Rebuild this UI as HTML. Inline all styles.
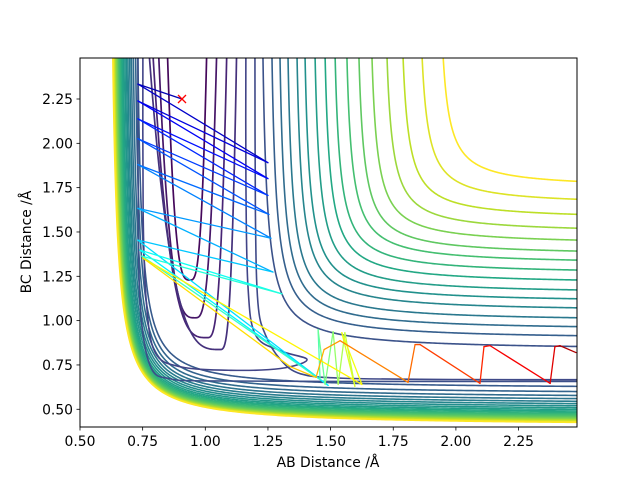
<!DOCTYPE html>
<html><head><meta charset="utf-8">
<style>
html,body{margin:0;padding:0;background:#fff;}
svg{display:block;}
text{font-family:"DejaVu Sans","Liberation Sans",sans-serif;font-size:13.9px;fill:#000;}
</style></head>
<body>
<svg id="chart" width="640" height="480" viewBox="0 0 640 480" xmlns="http://www.w3.org/2000/svg">
<defs><clipPath id="plotclip"><rect x="80" y="58" width="497" height="369"/></clipPath></defs>
<rect x="0" y="0" width="640" height="480" fill="#fff"/>
<g id="contours" clip-path="url(#plotclip)"></g>
<g id="traj" clip-path="url(#plotclip)"></g>
<g id="marker"></g>
<rect x="80" y="58" width="497" height="369" fill="none" stroke="#000" stroke-width="1"/>
<g id="xticks"></g>
<g id="yticks"></g>
<text x="328" y="467" text-anchor="middle">AB Distance /Å</text>
<text x="0" y="0" text-anchor="middle" transform="translate(31,242) rotate(-90)">BC Distance /Å</text>
</svg>
<script>
// ---- data ----
const xTicks = [0.50,0.75,1.00,1.25,1.50,1.75,2.00,2.25];
const yTicks = [0.50,0.75,1.00,1.25,1.50,1.75,2.00,2.25];
const outerTopX = [1.230,1.266,1.298,1.330,1.366,1.398,1.438,1.478,1.518,1.565,1.613,1.665,1.725,1.789,1.865,1.949];
const outerRightY = [0.854,0.915,0.966,1.016,1.072,1.123,1.173,1.229,1.285,1.341,1.392,1.454,1.521,1.599,1.684,1.785];
const wallTopX = [0.731,0.722,0.713,0.705,0.698,0.691,0.685,0.679,0.673,0.668,0.663,0.659,0.655,0.651,0.648,0.645,0.642,0.639,0.637,0.635,0.633,0.631];
const wallRightY = [0.629,0.600,0.578,0.560,0.545,0.532,0.520,0.509,0.499,0.490,0.482,0.474,0.467,0.460,0.454,0.449,0.444,0.440,0.436,0.432,0.429,0.426];
const uLeftX = [0.847,0.811,0.787,0.771];
const uRightX = [1.007,1.047,1.087,1.126];
const uBottomX = [0.939,0.959,1.007,1.059];
const uBottomY = [1.229,1.016,0.904,0.837];
const tongueX = [0.751,0.752,0.765,0.80,0.90,1.10,1.30,1.406,1.30,1.20,1.17,1.162,1.162];
const tongueY = [2.60,1.60,1.10,0.82,0.74,0.72,0.73,0.78,0.83,0.92,1.20,1.80,2.60];
const exitX = [0.731,0.733,0.745,0.785,0.86,1.0,1.5,2.6];
const exitY = [2.60,1.50,1.00,0.73,0.672,0.66,0.657,0.657];
const armX = [1.198,1.200,1.210,1.240,1.300,1.380,1.550,2.000,2.600];
const armY = [2.60,1.60,1.10,0.92,0.78,0.70,0.675,0.668,0.667];
const trajX = [0.907,0.731,1.250,0.731,1.250,0.731,1.250,0.731,1.254,0.731,1.262,0.731,1.270,0.731,1.490,0.739,1.306,0.747,1.458,1.450,1.478,1.510,1.530,1.557,1.597,1.545,1.625,0.751,1.338,1.442,1.474,1.538,1.809,1.837,1.857,2.096,2.112,2.136,2.376,2.395,2.415,2.479];
const trajY = [2.250,2.334,1.891,2.239,1.801,2.138,1.706,2.026,1.599,1.880,1.465,1.633,1.274,1.454,0.635,1.398,1.151,1.364,0.668,0.949,0.640,0.938,0.640,0.932,0.629,0.932,0.640,1.353,0.741,0.680,0.837,0.887,0.652,0.865,0.865,0.646,0.853,0.859,0.646,0.853,0.859,0.820];
const startX = [0.907], startY = [2.250];

// ---- axes ----
const X0=80, X1=577, Y0=427, Y1=58;
const XMIN=0.5, XPX=250.6, YREF=2.25, YREFPX=99, YPX=177.3;
function sx(v){return X0+(v-XMIN)*XPX;}
function sy(v){return YREFPX-(v-YREF)*YPX;}
const XMAX=XMIN+(X1-X0)/XPX, YMAX=YREF+(YREFPX-Y1)/YPX;
const NS="http://www.w3.org/2000/svg";
function mk(tag,attrs,parent){const e=document.createElementNS(NS,tag);for(const k in attrs)e.setAttribute(k,attrs[k]);parent.appendChild(e);return e;}

const vir=["#440154","#482475","#414487","#355f8d","#2a788e","#21918c","#22a884","#44bf70","#7ad151","#bddf26","#fde725"];
function hx(c){return [parseInt(c.slice(1,3),16),parseInt(c.slice(3,5),16),parseInt(c.slice(5,7),16)];}
function viridis(t){t=Math.max(0,Math.min(1,t));const f=t*10,i=Math.min(9,Math.floor(f)),r=f-i;const a=hx(vir[i]),b=hx(vir[i+1]);return "rgb("+a.map((v,k)=>Math.round(v+(b[k]-v)*r)).join(",")+")";}
function jet(t){function cl(v){return Math.max(0,Math.min(1,v));}const r=cl(1.5-Math.abs(4*t-3)),g=cl(1.5-Math.abs(4*t-2)),b=cl(1.5-Math.abs(4*t-1));return "rgb("+Math.round(r*255)+","+Math.round(g*255)+","+Math.round(b*255)+")";}

const cg=document.getElementById('contours');
function hyper(xtop,yright,c,color,name){
  let xa=xtop,yb=yright;
  for(let k=0;k<30;k++){yb=yright-c/(XMAX+0.01-xa);xa=xtop-c/(YMAX+0.01-yb);}
  let d="";
  for(let i=0;i<=300;i++){const x=xa+0.0005+Math.pow(i/300,2.2)*(2.6-xa);const y=yb+c/(x-xa);d+=(i?"L":"M")+sx(x).toFixed(2)+","+sy(Math.min(y,3)).toFixed(2);}
  const p=mk('path',{d:d,fill:"none",stroke:color,"stroke-width":1.6},cg);
  
  
}
function smooth(xs,ys,color,name){
  const P=xs.map((x,i)=>[sx(x),sy(ys[i])]);
  let d="M"+P[0][0]+","+P[0][1];
  for(let i=0;i<P.length-1;i++){const p0=P[Math.max(0,i-1)],p1=P[i],p2=P[i+1],p3=P[Math.min(P.length-1,i+2)];
    const c1=[p1[0]+(p2[0]-p0[0])/6,p1[1]+(p2[1]-p0[1])/6],c2=[p2[0]-(p3[0]-p1[0])/6,p2[1]-(p3[1]-p1[1])/6];
    d+="C"+c1[0].toFixed(2)+","+c1[1].toFixed(2)+" "+c2[0].toFixed(2)+","+c2[1].toFixed(2)+" "+p2[0].toFixed(2)+","+p2[1].toFixed(2);}
  const p=mk('path',{d:d,fill:"none",stroke:color,"stroke-width":1.6},cg);
  
  
}
wallTopX.forEach((xt,i)=>{const n=wallTopX.length;const c=0.03+0.012*i/(n-1);hyper(xt,wallRightY[i],c,viridis(0.28+0.72*i/(n-1)),'wall-contour');});
outerTopX.forEach((xt,i)=>{const n=outerTopX.length;const c=0.03-0.008*i/(n-1);hyper(xt,outerRightY[i],c,viridis(0.25+0.75*i/(n-1)),'outer-contour');});
uLeftX.forEach((xl,i)=>{
  const xs=[],ys=[];
  for(let k=-80;k<=80;k++){const t=k/80;const x=uBottomX[i]+(t<0?(uBottomX[i]-xl):(uRightX[i]-uBottomX[i]))*t;const y=uBottomY[i]+(2.6-uBottomY[i])*Math.pow(Math.abs(t),3.2);xs.push(x);ys.push(y);}
  let d="";xs.forEach((x,k)=>{d+=(k?"L":"M")+sx(x).toFixed(2)+","+sy(ys[k]).toFixed(2);});
  const p=mk('path',{d:d,fill:"none",stroke:viridis(0.02+0.04*i),"stroke-width":1.7},cg);
  
  
});
smooth(tongueX,tongueY,viridis(0.2),'saddle-contour');
smooth(exitX,exitY,viridis(0.24),'exit-valley-contour');
smooth(armX,armY,viridis(0.22),'saddle-arm-contour');

const tg=document.getElementById('traj');
for(let i=0;i<trajX.length-1;i++){
  const l=mk('line',{x1:sx(trajX[i]),y1:sy(trajY[i]),x2:sx(trajX[i+1]),y2:sy(trajY[i+1]),stroke:jet(0.05+0.9*i/(trajX.length-2)),"stroke-width":1.3,"stroke-linecap":"round"},tg);
  
  
}
const mg=document.getElementById('marker');
startX.forEach((x,i)=>{const cx=sx(x),cy=sy(startY[i]);
  const m=mk('path',{d:`M${cx-4},${cy-4}L${cx+4},${cy+4}M${cx-4},${cy+4}L${cx+4},${cy-4}`,stroke:"#ff0000","stroke-width":1.3,fill:"none"},mg);
  
  
});
const xg=document.getElementById('xticks'),yg=document.getElementById('yticks');
xTicks.forEach(v=>{const x=sx(v);
  const t=mk('line',{x1:x,y1:427,x2:x,y2:430.5,stroke:"#000","stroke-width":0.8},xg);
  
  
  const s=mk('text',{x:x,y:446,"text-anchor":"middle"},xg);s.textContent=v.toFixed(2);
  
  
});
yTicks.forEach(v=>{const y=sy(v);
  const t=mk('line',{x1:76.5,y1:y,x2:80,y2:y,stroke:"#000","stroke-width":0.8},yg);
  
  
  const s=mk('text',{x:73,y:y+5,"text-anchor":"end"},yg);s.textContent=v.toFixed(2);
  
  
});
</script>
</body></html>
